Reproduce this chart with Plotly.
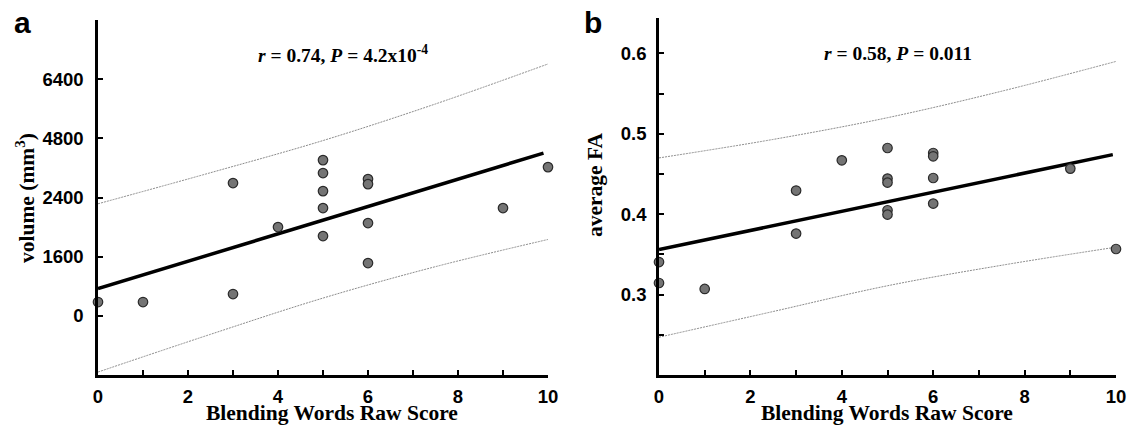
import plotly.graph_objects as go

W, H = 1131, 427

# ---------------- data ----------------
score_a = [0, 1, 3, 3, 4, 5, 5, 5, 5, 5, 6, 6, 6, 6, 9, 10]
volume_a = [373, 373, 3590, 589, 2400, 4211, 3860, 3373, 2914, 2157,
            3698, 3562, 2508, 1427, 2914, 4022]
fit_x_a = [0, 9.9]
fit_y_a = [735, 4400]
band_x_a = [0, 2.5, 5, 7.5, 10]
band_up_a = [3030, 3870, 4740, 5730, 6811]
band_lo_a = [-1520, -500, 480, 1330, 2065]
ytick_vals_a = [0, 1600, 3200, 4800, 6400]
ytick_text_a = ["0", "1600", "2400", "4800", "6400"]

score_b = [0, 0, 1, 3, 3, 4, 5, 5, 5, 5, 5, 6, 6, 6, 6, 9, 10]
fa_b = [0.3405, 0.3144, 0.307, 0.4294, 0.3759, 0.467, 0.4823, 0.4443,
        0.4393, 0.4049, 0.3995, 0.4761, 0.472, 0.445, 0.4132, 0.4567, 0.3567]
fit_x_b = [0, 9.93]
fit_y_b = [0.356, 0.4741]
band_x_b = [0, 2.5, 5, 7.5, 10]
band_up_b = [0.470, 0.493, 0.520, 0.553, 0.590]
band_lo_b = [0.247, 0.279, 0.311, 0.3365, 0.359]
ytick_vals_b = [0.3, 0.4, 0.5, 0.6]
yminor_vals_b = [0.25, 0.35, 0.45, 0.55]

x_title = "Blending Words Raw Score"
stat_a = "<b><i>r</i> = 0.74, <i>P</i> = 4.2x10<sup>-4</sup></b>"
stat_b = "<b><i>r</i> = 0.58, <i>P</i> = 0.011</b>"

# ---------------- figure ----------------
fig = go.Figure()

marker = dict(size=9.5, color="#747474", line=dict(color="#2a2a2a", width=1.2))
band_line = dict(color="#8c8c8c", width=1, dash="2px,1px")
fit_line = dict(color="black", width=3.5)

for xa, ya, sx, sy, fx, fy, bx, bu, bl in [
    ("x", "y", score_a, volume_a, fit_x_a, fit_y_a, band_x_a, band_up_a, band_lo_a),
    ("x2", "y2", score_b, fa_b, fit_x_b, fit_y_b, band_x_b, band_up_b, band_lo_b),
]:
    fig.add_trace(go.Scatter(x=bx, y=bu, mode="lines", line=dict(shape="spline", **band_line),
                             xaxis=xa, yaxis=ya, showlegend=False, hoverinfo="skip"))
    fig.add_trace(go.Scatter(x=bx, y=bl, mode="lines", line=dict(shape="spline", **band_line),
                             xaxis=xa, yaxis=ya, showlegend=False, hoverinfo="skip"))
    fig.add_trace(go.Scatter(x=fx, y=fy, mode="lines", line=fit_line,
                             xaxis=xa, yaxis=ya, showlegend=False))
    fig.add_trace(go.Scatter(x=sx, y=sy, mode="markers", marker=marker, cliponaxis=False,
                             xaxis=xa, yaxis=ya, showlegend=False))

tick_font = dict(family="Liberation Sans, Arial", size=18.5, color="black", weight="bold")
title_font = dict(family="Liberation Serif, Times New Roman", size=21.5, color="black")

def px2x(p):
    return p / W

def px2y(p):
    return 1 - p / H

common_x = dict(
    range=[0, 10], showline=True, linecolor="black", linewidth=2.5, mirror=False,
    showgrid=False, zeroline=False, ticks="inside", ticklen=5, tickwidth=1.5,
    tickcolor="black", tickvals=[0, 2, 4, 6, 8, 10], tickfont=tick_font,
    ticklabelstandoff=3, automargin=False,
    minor=dict(tickvals=[1, 3, 5, 7, 9], ticks="inside", ticklen=5, tickwidth=1.5,
               tickcolor="black"),
)

fig.update_layout(
    width=W, height=H, autosize=False,
    margin=dict(l=0, r=0, t=0, b=0, autoexpand=False),
    paper_bgcolor="white", plot_bgcolor="white",
    xaxis=dict(domain=[px2x(98), px2x(548)], anchor="y", **common_x),
    xaxis2=dict(domain=[px2x(659), px2x(1116)], anchor="y2", **common_x),
    yaxis=dict(
        domain=[px2y(375), px2y(20)], anchor="x", range=[-1600, 8000],
        showline=True, linecolor="black", linewidth=2.5, showgrid=False, zeroline=False,
        ticks="inside", ticklen=5, tickwidth=1.5, tickcolor="black",
        tickvals=ytick_vals_a, ticktext=ytick_text_a, tickfont=tick_font,
        ticklabelstandoff=8, automargin=False,
    ),
    yaxis2=dict(
        domain=[px2y(375), px2y(18)], anchor="x2", range=[0.2, 0.644],
        showline=True, linecolor="black", linewidth=2.5, showgrid=False, zeroline=False,
        ticks="inside", ticklen=5, tickwidth=1.5, tickcolor="black",
        tickvals=ytick_vals_b, tickfont=tick_font, ticklabelstandoff=6, automargin=False,
        minor=dict(tickvals=yminor_vals_b, ticks="inside", ticklen=5, tickwidth=1.5,
                   tickcolor="black"),
    ),
)

annotations = [
    # panel letters
    dict(x=px2x(22), y=px2y(23), text="<b>a</b>",
         font=dict(family="Liberation Sans, Arial", size=30, color="black")),
    dict(x=px2x(593), y=px2y(22), text="<b>b</b>",
         font=dict(family="Liberation Sans, Arial", size=30, color="black")),
    # stats
    dict(x=px2x(343), y=px2y(54), text=stat_a, font=dict(family="Liberation Serif", size=19.5, color="black")),
    dict(x=px2x(898), y=px2y(53), text=stat_b, font=dict(family="Liberation Serif", size=19.5, color="black")),
    # x titles
    dict(x=px2x(332), y=px2y(413), text="<b>" + x_title + "</b>", font=title_font),
    dict(x=px2x(887), y=px2y(413), text="<b>" + x_title + "</b>", font=title_font),
    # y titles
    dict(x=px2x(25), y=px2y(198), text="<b>volume (mm<sup>3</sup>)</b>", textangle=-90, font=title_font),
    dict(x=px2x(595), y=px2y(185), text="<b>average FA</b>", textangle=-90, font=title_font),
]
for a in annotations:
    a.update(xref="paper", yref="paper", showarrow=False, xanchor="center", yanchor="middle")
fig.update_layout(annotations=annotations)

fig.write_html("out.html", config={"displayModeBar": False},
               post_script="document.body.style.margin='0px';document.body.style.overflow='hidden';")
